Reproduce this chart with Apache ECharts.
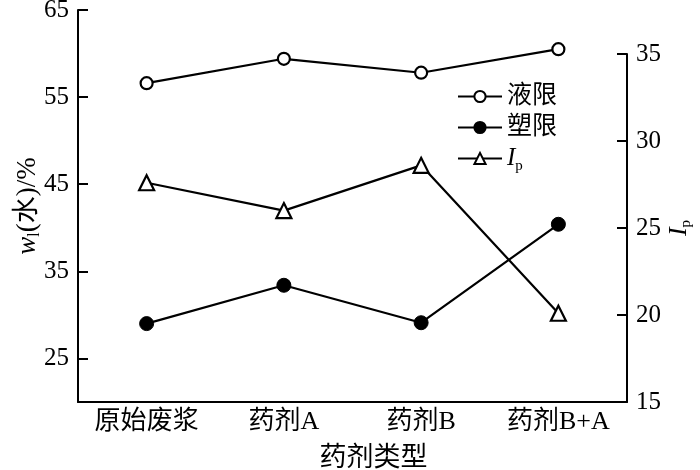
<!DOCTYPE html>
<html>
<head>
<meta charset="utf-8">
<script src="https://cdn.jsdelivr.net/npm/echarts@6/dist/echarts.min.js"></script>
<style>html,body{margin:0;padding:0;background:#fff}#c{width:700px;height:470px}</style>
</head>
<body>
<div id="c"></div>
<script>
const categories = ['原始废浆', '药剂A', '药剂B', '药剂B+A'];
const liquidLimit = [56.6, 59.4, 57.8, 60.5];
const plasticLimit = [29.0, 33.4, 29.1, 40.4];
const plasticityIndex = [27.6, 26.0, 28.6, 20.1];
const leftTicks = [25, 35, 45, 55, 65];

const FONT = "'Liberation Serif', 'Times New Roman', 'Noto Sans CJK SC', serif";
const chart = echarts.init(document.getElementById('c'));
const axisStyle = { lineStyle: { color: '#000', width: 2 } };
chart.setOption({
  animation: false,
  backgroundColor: '#fff',
  textStyle: { fontFamily: FONT, color: '#000' },
  grid: [
    { left: 78, right: 73, top: 10, bottom: 68, containLabel: false, outerBoundsMode: 'none' },
    { left: 78, right: 73, top: 54, bottom: 68, containLabel: false, outerBoundsMode: 'none' }
  ],
  legend: {
    orient: 'vertical', left: 452, top: 79, itemGap: 6,
    itemWidth: 44, itemHeight: 14,
    data: ['液限', '塑限', 'Ip'],
    textStyle: { fontFamily: FONT, fontSize: 25, color: '#000',
      rich: { i: { fontFamily: FONT, fontSize: 25, fontStyle: 'italic' },
              s: { fontFamily: FONT, fontSize: 15, padding: [16, 0, 0, 0] } } },
    formatter: function (n) { return n === 'Ip' ? '{i|I}{s|p}' : n; }
  },
  xAxis: [
    { type: 'category', gridIndex: 0, data: categories, boundaryGap: true,
      axisLine: axisStyle,
      axisTick: { inside: true, alignWithLabel: true, length: 9, lineStyle: { color: '#000', width: 2 } },
      axisLabel: { fontFamily: FONT, fontSize: 26, color: '#000', margin: 7 },
      name: '药剂类型', nameLocation: 'middle', nameGap: 43,
      nameTextStyle: { fontFamily: FONT, fontSize: 27, color: '#000', padding: [0, 0, 0, 42] } },
    { type: 'category', gridIndex: 1, data: categories, boundaryGap: true, show: false }
  ],
  yAxis: [
    { type: 'value', gridIndex: 0, min: 20, max: 65, position: 'left',
      splitLine: { show: false },
      axisLine: { show: true, lineStyle: { color: '#000', width: 2 } },
      axisTick: { show: true, inside: true, length: 10, customValues: leftTicks, lineStyle: { color: '#000', width: 2 } },
      axisLabel: { fontFamily: FONT, fontSize: 25, color: '#000', margin: 9, customValues: leftTicks },
      name: '{i|w}{s|l}(水)/%', nameLocation: 'middle', nameRotate: 90, nameGap: 35, nameMoveOverlap: false,
      nameTextStyle: { fontFamily: FONT, fontSize: 27, color: '#000',
        rich: { i: { fontFamily: FONT, fontSize: 27, fontStyle: 'italic' },
                s: { fontFamily: FONT, fontSize: 16, padding: [15, 0, 0, 0] } } } },
    { type: 'value', gridIndex: 1, min: 15, max: 35, interval: 5, position: 'right',
      splitLine: { show: false },
      axisLine: { show: true, lineStyle: { color: '#000', width: 2 } },
      axisTick: { show: true, inside: true, length: 10, lineStyle: { color: '#000', width: 2 } },
      axisLabel: { fontFamily: FONT, fontSize: 25, color: '#000', margin: 9 },
      name: '{i|I}{s|p}', nameLocation: 'middle', nameRotate: 90, nameGap: 37, nameMoveOverlap: false,
      nameTextStyle: { fontFamily: FONT, fontSize: 26, color: '#000',
        rich: { i: { fontFamily: FONT, fontSize: 26, fontStyle: 'italic' },
                s: { fontFamily: FONT, fontSize: 15, padding: [15, 0, 0, 0] } } } }
  ],
  series: [
    { name: '液限', type: 'line', xAxisIndex: 0, yAxisIndex: 0, data: liquidLimit,
      symbol: 'circle', symbolSize: 12,
      lineStyle: { color: '#000', width: 2.2 },
      itemStyle: { color: '#fff', borderColor: '#000', borderWidth: 2.2 } },
    { name: '塑限', type: 'line', xAxisIndex: 0, yAxisIndex: 0, data: plasticLimit,
      symbol: 'circle', symbolSize: 14,
      lineStyle: { color: '#000', width: 2.2 },
      itemStyle: { color: '#000', borderColor: '#000', borderWidth: 1 } },
    { name: 'Ip', type: 'line', xAxisIndex: 1, yAxisIndex: 1, data: plasticityIndex,
      symbol: 'triangle', symbolSize: 15,
      lineStyle: { color: '#000', width: 2.2 },
      itemStyle: { color: '#fff', borderColor: '#000', borderWidth: 2.2 } }
  ]
});
</script>
</body>
</html>
